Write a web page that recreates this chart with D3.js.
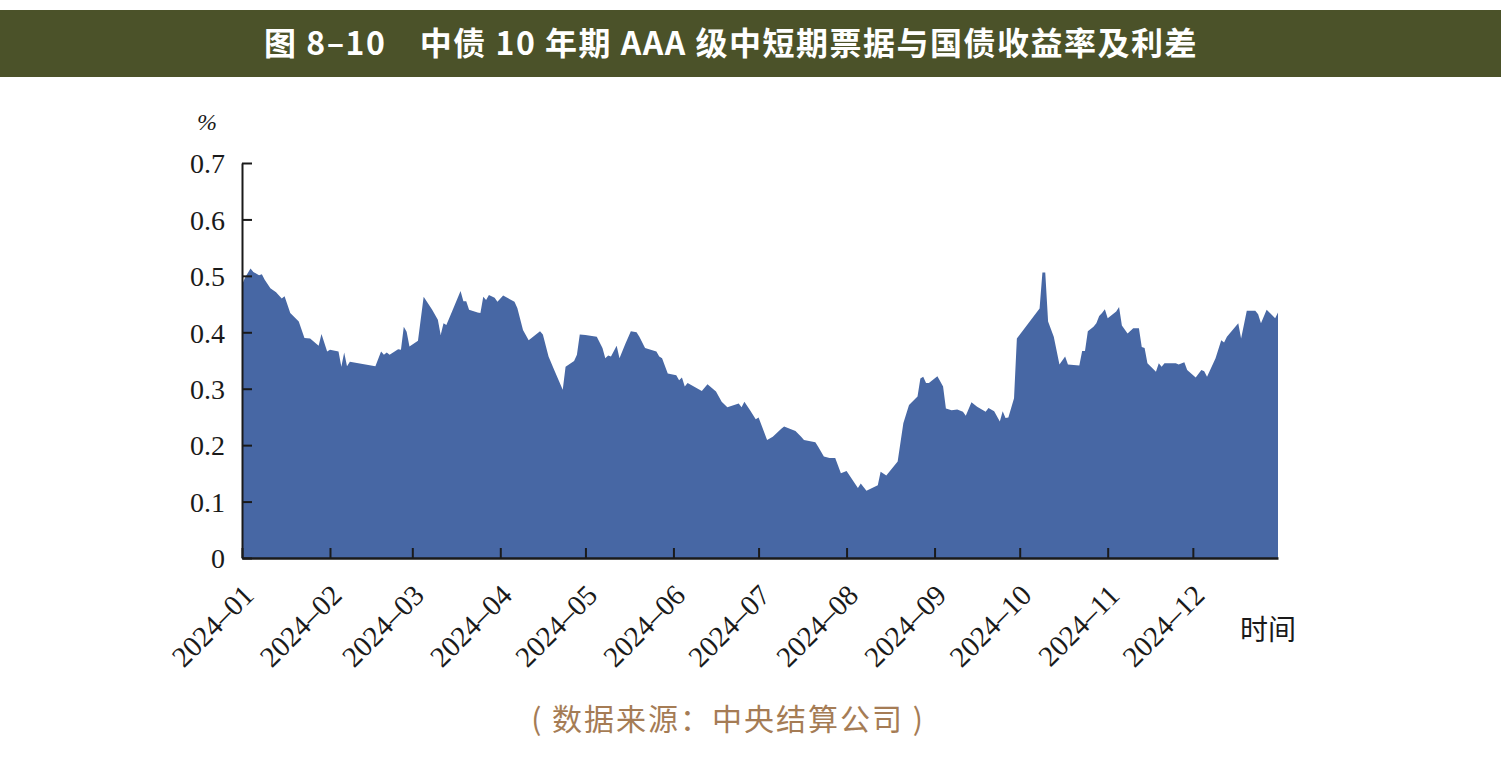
<!DOCTYPE html>
<html>
<head>
<meta charset="utf-8">
<script src="https://d3js.org/d3.v7.min.js"></script>
<title>中债10年期AAA级中短期票据与国债收益率及利差</title>
<style>
    body { margin: 0; background: #fff; }
    .tick text { font-family: "Liberation Serif", "DejaVu Serif", serif; font-size: 28px; fill: #1a1a1a; }
    .x-axis .tick text { font-size: 29px; }
    .domain, .tick line { stroke: #1a1a1a; }
</style>
</head>
<body>
<svg width="1501" height="763"></svg>
<script>
// trading days (2024) and spread, %
const days = [
    '01-01','01-02','01-04','01-05','01-07','01-08','01-09','01-11','01-13','01-15','01-16','01-18','01-21','01-23','01-25','01-28','01-29','01-31',
    '02-01','02-04','02-05','02-06','02-07','02-08','02-17','02-19','02-20','02-21','02-22','02-25','02-26','02-27','02-28','02-29',
    '03-03','03-05','03-08','03-10','03-11','03-12','03-13','03-15','03-18','03-19','03-20','03-21','03-24','03-25','03-26','03-27','03-28','03-30','03-31',
    '04-02','04-06','04-07','04-09','04-11','04-15','04-16','04-18','04-20','04-23','04-24','04-27','04-28','04-29',
    '05-01','05-05','05-07','05-08','05-09','05-10','05-12','05-13','05-15','05-17','05-19','05-20','05-22','05-26','05-27','05-28','05-30',
    '06-02','06-03','06-04','06-05','06-06','06-11','06-13','06-16','06-18','06-20','06-24','06-25','06-26','06-28','06-30',
    '07-01','07-04','07-06','07-09','07-10','07-12','07-14','07-16','07-17','07-21','07-22','07-24','07-26','07-28','07-30',
    '08-01','08-05','08-06','08-08','08-12','08-13','08-15','08-19','08-21','08-23','08-26','08-27','08-28','08-29','08-30',
    '09-01','09-02','09-04','09-05','09-07','09-09','09-11','09-12','09-14','09-16','09-19','09-20','09-22','09-24','09-25','09-26','09-27','09-29','09-30',
    '10-08','10-09','10-10','10-11','10-13','10-15','10-17','10-18','10-22','10-23','10-24','10-25','10-27','10-28','10-29','10-30','10-31',
    '11-01','11-04','11-05','11-06','11-08','11-10','11-12','11-13','11-14','11-15','11-18','11-19','11-20','11-21','11-25','11-26','11-28','11-29',
    '12-02','12-04','12-05','12-06','12-09','12-11','12-12','12-13','12-17','12-18','12-20','12-23','12-24','12-25','12-27','12-30','12-31'
];
const spread = [
    0.484,0.496,0.513,0.507,0.501,0.503,0.493,0.478,0.471,0.460,0.464,0.434,0.419,0.390,0.389,0.376,0.397,0.366,
    0.369,0.366,0.339,0.364,0.340,0.348,0.340,0.366,0.360,0.364,0.360,0.370,0.369,0.410,0.401,0.375,
    0.385,0.463,0.440,0.422,0.395,0.416,0.413,0.437,0.473,0.455,0.455,0.440,0.435,0.434,0.463,0.457,0.466,0.461,0.454,
    0.465,0.454,0.443,0.404,0.386,0.402,0.396,0.357,0.333,0.298,0.339,0.349,0.360,0.396,
    0.395,0.392,0.372,0.354,0.359,0.357,0.376,0.354,0.379,0.402,0.400,0.392,0.372,0.366,0.357,0.354,0.327,
    0.324,0.315,0.320,0.304,0.310,0.296,0.308,0.295,0.277,0.267,0.274,0.267,0.277,0.262,0.246,
    0.249,0.209,0.215,0.229,0.233,0.229,0.225,0.215,0.209,0.205,0.197,0.180,0.177,0.177,0.150,
    0.154,0.124,0.132,0.119,0.129,0.153,0.146,0.171,0.239,0.271,0.286,0.318,0.321,0.310,0.310,
    0.318,0.322,0.304,0.265,0.262,0.263,0.259,0.252,0.276,0.268,0.259,0.266,0.260,0.242,0.260,0.248,0.249,0.283,0.389,
    0.442,0.506,0.506,0.419,0.392,0.343,0.357,0.343,0.341,0.367,0.367,0.402,0.410,0.416,0.429,0.434,0.441,
    0.425,0.437,0.445,0.412,0.398,0.407,0.407,0.374,0.372,0.345,0.330,0.345,0.339,0.345,0.345,0.343,0.347,0.333,
    0.320,0.333,0.331,0.321,0.354,0.386,0.382,0.392,0.416,0.389,0.438,0.438,0.432,0.416,0.440,0.425,0.435
];
const yTicks = [0, 0.1, 0.2, 0.3, 0.4, 0.5, 0.6, 0.7];
const monthTicks = ['01','02','03','04','05','06','07','08','09','10','11','12'];

const title = '图 8–10\u3000中债 10 年期 AAA 级中短期票据与国债收益率及利差';
const source = '( 数据来源：中央结算公司 )';

const parse = d3.timeParse('%Y-%m-%d');
const data = days.map((d, i) => ({ date: parse('2024-' + d), value: spread[i] }));

const svg = d3.select('svg');
const plotLeft = 242, plotRight = 1278, plotTop = 163, plotBottom = 558;

// title band
svg.append('rect')
    .attr('x', 0).attr('y', 10)
    .attr('width', 1501).attr('height', 67)
    .attr('fill', '#4b5229');
svg.append('text')
    .attr('x', 731).attr('y', 55)
    .attr('text-anchor', 'middle')
    .style('font-family', '"Noto Sans CJK SC", sans-serif')
    .style('font-weight', 'bold')
    .style('font-size', '32px')
    .style('letter-spacing', '1.5px')
    .attr('fill', '#fff')
    .text(title);

const x = d3.scaleTime()
    .domain([parse('2024-01-01'), parse('2024-12-31')])
    .range([plotLeft, plotRight]);
const y = d3.scaleLinear()
    .domain([0, 0.7])
    .range([plotBottom, plotTop]);

const area = d3.area()
    .x(d => x(d.date))
    .y0(y(0))
    .y1(d => y(d.value));

svg.append('path')
    .datum(data)
    .attr('fill', '#4767a4')
    .attr('d', area);

const yAxis = d3.axisLeft(y)
    .tickValues(yTicks)
    .tickFormat(d => d === 0 ? '0' : d3.format('.1f')(d))
    .tickSizeInner(-10)
    .tickSizeOuter(0)
    .tickPadding(17);
const yAxisG = svg.append('g')
    .attr('transform', `translate(${plotLeft},0)`)
    .call(yAxis);
yAxisG.select('.domain').attr('stroke-width', 2);
yAxisG.selectAll('.tick line').attr('stroke-width', 2);
yAxisG.selectAll('.tick text').attr('dy', '0.35em');

const xAxis = d3.axisBottom(x)
    .tickValues(monthTicks.map(m => parse('2024-' + m + '-01')))
    .tickFormat(d3.timeFormat('%Y–%m'))
    .tickSizeInner(-10)
    .tickSizeOuter(0);
const xAxisG = svg.append('g')
    .attr('class', 'x-axis')
    .attr('transform', `translate(0,${plotBottom})`)
    .call(xAxis);
xAxisG.select('.domain').attr('stroke-width', 2.5);
xAxisG.selectAll('.tick line').attr('stroke-width', 2);
xAxisG.selectAll('.tick text')
    .attr('x', 0).attr('y', 0).attr('dy', 0)
    .attr('text-anchor', 'end')
    .attr('transform', 'translate(13,39) rotate(-45)');

// unit and axis name
svg.append('text')
    .attr('x', 207).attr('y', 130)
    .attr('text-anchor', 'middle')
    .style('font-family', '"Liberation Serif", serif')
    .style('font-style', 'italic')
    .style('font-size', '24px')
    .attr('fill', '#1a1a1a')
    .text('%');
svg.append('text')
    .attr('x', 1240).attr('y', 640)
    .style('font-family', '"Noto Sans CJK SC", sans-serif')
    .style('font-size', '28px')
    .attr('fill', '#1a1a1a')
    .text('时间');

svg.append('text')
    .attr('x', 728).attr('y', 730)
    .attr('text-anchor', 'middle')
    .style('font-family', '"Noto Sans CJK SC", sans-serif')
    .style('font-size', '30px')
    .style('letter-spacing', '2px')
    .attr('fill', '#a57c55')
    .text(source);
</script>
</body>
</html>
